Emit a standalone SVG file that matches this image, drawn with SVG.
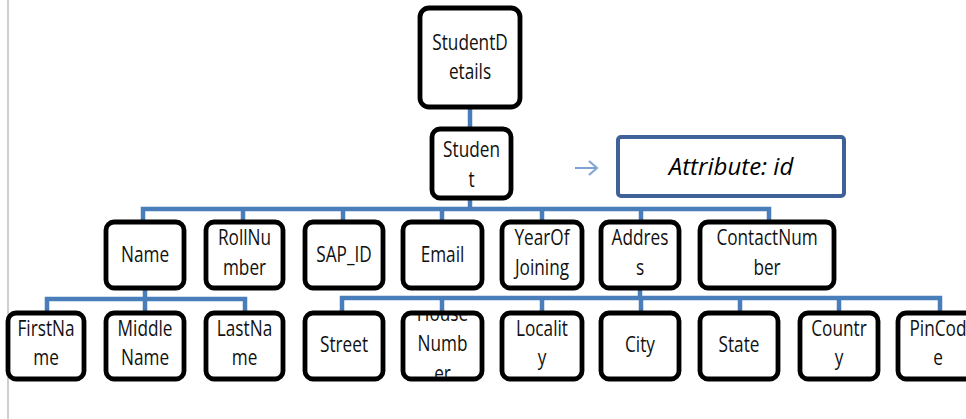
<svg xmlns="http://www.w3.org/2000/svg" width="966" height="419" viewBox="0 0 966 419">
<style>
.box{fill:#fff;stroke:#000;stroke-width:4.8}
.t{font-family:"Open Sans","Liberation Sans",sans-serif;font-size:21px;fill:#111;text-anchor:middle}
.c{fill:none;stroke:#4a7ebb;stroke-width:4.5}
.attr{fill:#fff;stroke:#3e6297;stroke-width:4}
.at{font-family:"Open Sans","Liberation Sans",sans-serif;font-size:24px;font-style:italic;fill:#000;text-anchor:middle}
</style>
<defs>
<clipPath id="hnclip"><rect x="405" y="315" width="75" height="62"/></clipPath>
</defs>
<rect width="966" height="419" fill="#fff"/>
<line x1="8" y1="0" x2="8" y2="419" stroke="#cfcfcf" stroke-width="2"/>
<g id="connectors">
<path class="c" d="M470,107 V129"/>
<path class="c" d="M470,198 V209"/>
<path class="c" d="M143,222 V209 H769 V222"/>
<path class="c" d="M243,209 V222 M343,209 V222 M442,209 V222 M542,209 V222 M641,209 V222"/>
<path class="c" d="M145,288 V299"/>
<path class="c" d="M47,313 V299 H245 V313 M145,299 V313"/>
<path class="c" d="M640,288 V298"/>
<path class="c" d="M342,313 V298 H940 V313"/>
<path class="c" d="M442,298 V313 M542,298 V313 M641,298 V313 M740,298 V313 M839,298 V313"/>
<path d="M575,168 H597 M589,161 L597,168 L589,175" fill="none" stroke="#7ea3d3" stroke-width="2"/>
</g>
<g id="studentdetails"><rect class="box" x="420" y="8" width="100" height="99" rx="9"/><text class="t" transform="translate(470 0) scale(.82 1)"><tspan x="0" y="50">StudentD</tspan><tspan x="0" y="79">etails</tspan></text></g>
<g id="student"><rect class="box" x="432" y="129" width="79" height="69" rx="8"/><text class="t" transform="translate(471.5 0) scale(.82 1)"><tspan x="0" y="157">Studen</tspan><tspan x="0" y="187">t</tspan></text></g>
<g id="attribute"><rect class="attr" x="618" y="137" width="226" height="59" rx="3"/><text class="at" x="731" y="175">Attribute: id</text></g>
<g id="name"><rect class="box" x="106" y="222" width="78" height="66" rx="8"/><text class="t" transform="translate(145 0) scale(.82 1)"><tspan x="0" y="262">Name</tspan></text></g>
<g id="rollnumber"><rect class="box" x="206" y="222" width="77" height="66" rx="8"/><text class="t" transform="translate(244.5 0) scale(.82 1)"><tspan x="0" y="245">RollNu</tspan><tspan x="0" y="275">mber</tspan></text></g>
<g id="sapid"><rect class="box" x="305" y="222" width="78" height="66" rx="8"/><text class="t" transform="translate(344 0) scale(.82 1)"><tspan x="0" y="262">SAP_ID</tspan></text></g>
<g id="email"><rect class="box" x="403" y="222" width="79" height="66" rx="8"/><text class="t" transform="translate(442.5 0) scale(.82 1)"><tspan x="0" y="262">Email</tspan></text></g>
<g id="yearofjoining"><rect class="box" x="502" y="222" width="80" height="66" rx="8"/><text class="t" transform="translate(542 0) scale(.82 1)"><tspan x="0" y="245">YearOf</tspan><tspan x="0" y="275">Joining</tspan></text></g>
<g id="address"><rect class="box" x="601" y="222" width="78" height="66" rx="8"/><text class="t" transform="translate(640 0) scale(.82 1)"><tspan x="0" y="245">Addres</tspan><tspan x="0" y="275">s</tspan></text></g>
<g id="contactnumber"><rect class="box" x="700" y="222" width="134" height="66" rx="8"/><text class="t" transform="translate(767 0) scale(.82 1)"><tspan x="0" y="245">ContactNum</tspan><tspan x="0" y="275">ber</tspan></text></g>
<g id="firstname"><rect class="box" x="8" y="313" width="76" height="66" rx="8"/><text class="t" transform="translate(46 0) scale(.82 1)"><tspan x="0" y="336">FirstNa</tspan><tspan x="0" y="365">me</tspan></text></g>
<g id="middlename"><rect class="box" x="106" y="313" width="78" height="66" rx="8"/><text class="t" transform="translate(145 0) scale(.82 1)"><tspan x="0" y="336">Middle</tspan><tspan x="0" y="365">Name</tspan></text></g>
<g id="lastname"><rect class="box" x="206" y="313" width="77" height="66" rx="8"/><text class="t" transform="translate(244.5 0) scale(.82 1)"><tspan x="0" y="336">LastNa</tspan><tspan x="0" y="365">me</tspan></text></g>
<g id="street"><rect class="box" x="305" y="313" width="78" height="66" rx="8"/><text class="t" transform="translate(344 0) scale(.82 1)"><tspan x="0" y="352">Street</tspan></text></g>
<g id="housenumber"><rect class="box" x="403" y="313" width="79" height="66" rx="8"/><g clip-path="url(#hnclip)"><text class="t" transform="translate(442.5 0) scale(.82 1)"><tspan x="0" y="321">House</tspan><tspan x="0" y="351">Numb</tspan><tspan x="0" y="381">er</tspan></text></g></g>
<g id="locality"><rect class="box" x="502" y="313" width="80" height="66" rx="8"/><text class="t" transform="translate(542 0) scale(.82 1)"><tspan x="0" y="336">Localit</tspan><tspan x="0" y="365">y</tspan></text></g>
<g id="city"><rect class="box" x="601" y="313" width="78" height="66" rx="8"/><text class="t" transform="translate(640 0) scale(.82 1)"><tspan x="0" y="352">City</tspan></text></g>
<g id="state"><rect class="box" x="700" y="313" width="78" height="66" rx="8"/><text class="t" transform="translate(739 0) scale(.82 1)"><tspan x="0" y="352">State</tspan></text></g>
<g id="country"><rect class="box" x="800" y="313" width="78" height="66" rx="8"/><text class="t" transform="translate(839 0) scale(.82 1)"><tspan x="0" y="336">Countr</tspan><tspan x="0" y="365">y</tspan></text></g>
<g id="pincode"><rect class="box" x="898" y="313" width="80" height="66" rx="8"/><text class="t" transform="translate(938 0) scale(.82 1)"><tspan x="0" y="336">PinCod</tspan><tspan x="0" y="365">e</tspan></text></g>
</svg>
